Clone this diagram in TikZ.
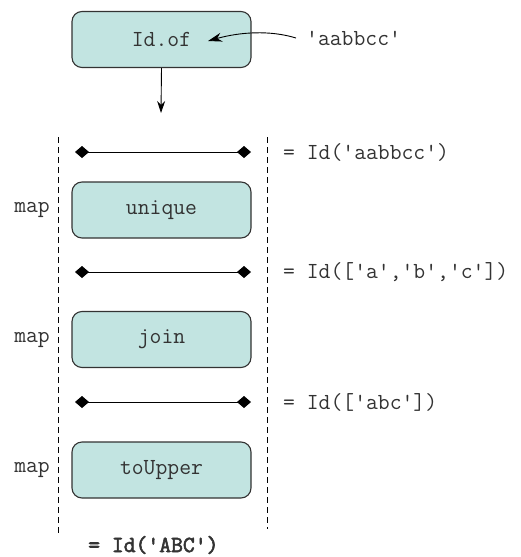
\documentclass[tikz,border=0pt]{standalone}
\usepackage{fontspec}
\newfontfamily\resfont[FakeBold=2.5]{Latin Modern Mono}
\usetikzlibrary{arrows.meta}
\definecolor{boxfill}{HTML}{C2E4E1}
\definecolor{txt}{HTML}{333333}
\begin{document}
\begin{tikzpicture}[x=1pt,y=-1pt,
  fnbox/.style={draw=txt,line width=1.1pt,fill=boxfill,rounded corners=10pt,minimum width=179pt,minimum height=56pt,inner sep=0pt,font=\fontsize{23}{25}\ttfamily,text=txt},
  lbl/.style={font=\fontsize{23}{25}\ttfamily,text=txt,inner sep=0pt},
  bar/.style={line width=0.9pt,{Diamond[length=14pt,width=12pt]}-{Diamond[length=14pt,width=12pt]}},
  guide/.style={draw=black,line width=0.8pt,dash pattern=on 6pt off 4pt}]
\useasboundingbox (0,0) rectangle (521,557);
\node[fnbox] (of) at (161.5,39.5) {Id.of};
\node[lbl,anchor=west] (src) at (306,38) {'aabbcc'};
\coordinate (srcend) at (296,38);
\coordinate (oftip) at (208,41);
\draw[-{Stealth[length=14pt,width=9pt]},line width=0.9pt] (srcend) .. controls (270,30) and (240,32) .. (oftip);

\coordinate (d1) at (161,113);
\draw[-{Stealth[length=12pt,width=8pt]},line width=0.9pt] (of.south) -- (d1);

\coordinate (gl1) at (58,137);
\coordinate (gl2) at (58,535);
\coordinate (gr1) at (267,137);
\coordinate (gr2) at (267,529);
\draw[guide] (gl1) -- (gl2);
\draw[guide] (gr1) -- (gr2);

\coordinate (a1) at (75,152); \coordinate (b1) at (251,152);
\coordinate (a2) at (75,272); \coordinate (b2) at (251,272);
\coordinate (a3) at (75,402); \coordinate (b3) at (251,402);
\draw[bar] (a1) -- (b1);
\draw[bar] (a2) -- (b2);
\draw[bar] (a3) -- (b3);

\node[lbl,anchor=west] (r1) at (283,152) {= Id('aabbcc')};
\node[lbl,anchor=west] (r2) at (283,272) {= Id(['a','b','c'])};
\node[lbl,anchor=west] (r3) at (283,402) {= Id(['abc'])};

\node[fnbox] (uniq) at (161.5,210) {unique};
\node[fnbox] (join) at (161.5,339.5) {join};
\node[fnbox] (upper) at (161.5,470) {toUpper};

\node[lbl,anchor=east] (m1) at (50,210) {map};
\node[lbl,anchor=east] (m2) at (50,339.5) {map};
\node[lbl,anchor=east] (m3) at (50,470) {map};

\node[lbl,font=\fontsize{23}{25}\resfont,anchor=west] (res) at (88,545) {= Id('ABC')};
\end{tikzpicture}
\end{document}
